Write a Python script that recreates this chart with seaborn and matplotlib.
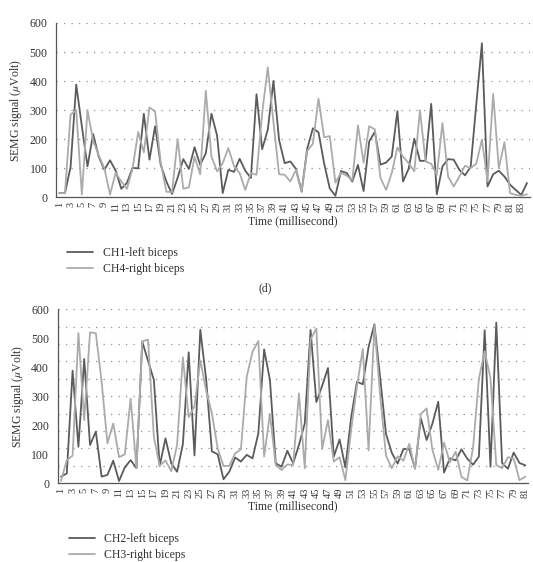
import numpy as np
import pandas as pd
import matplotlib
matplotlib.use("Agg")
import matplotlib.pyplot as plt
from matplotlib.ticker import MultipleLocator, FixedLocator
import seaborn as sns

# panel (d), upper chart
ch1_left = [15, 15, 105, 388, 245, 107, 218, 140, 95, 128, 92, 30, 50, 102, 100, 288, 130, 245, 112, 55,
            12, 68, 132, 98, 173, 112, 152, 288, 213, 15, 95, 88, 133, 92, 67, 355, 166, 233, 401, 198,
            118, 124, 98, 20, 168, 238, 224, 117, 31, 6, 91, 84, 55, 112, 22, 193, 226, 113, 120, 141,
            297, 55, 99, 202, 126, 126, 322, 11, 107, 132, 130, 95, 76, 105, 320, 530, 38, 80, 92, 72,
            44, 26, 9, 50]
ch4_right = [15, 15, 285, 300, 10, 300, 195, 145, 100, 10, 85, 55, 30, 100, 225, 155, 310, 295, 120, 20,
             18, 200, 30, 35, 140, 80, 367, 141, 90, 118, 170, 108, 84, 26, 84, 78, 290, 447, 260, 80,
             78, 55, 95, 20, 160, 185, 340, 207, 211, 51, 85, 75, 60, 248, 120, 245, 234, 67, 26, 84,
             172, 141, 118, 90, 300, 124, 116, 78, 256, 72, 38, 72, 109, 101, 116, 199, 55, 356, 101, 190,
             15, 9, 6, 11]

# lower chart
ch2_left = [23, 34, 388, 126, 428, 132, 178, 23, 29, 78, 8, 55, 80, 52, 488, 422, 356, 60, 155, 69,
            40, 135, 451, 96, 529, 360, 110, 100, 14, 40, 89, 75, 98, 86, 172, 461, 356, 69, 57, 112,
            69, 132, 206, 528, 280, 336, 397, 92, 151, 55, 228, 350, 341, 470, 548, 362, 170, 105, 68, 118,
            118, 52, 224, 149, 206, 281, 37, 86, 79, 117, 85, 64, 92, 527, 57, 553, 70, 50, 106, 70, 62]
ch3_right = [8, 80, 95, 517, 218, 520, 517, 350, 138, 206, 90, 100, 292, 52, 489, 495, 160, 60, 79, 42,
             132, 434, 228, 265, 424, 320, 241, 120, 60, 60, 103, 117, 367, 453, 490, 92, 239, 63, 46, 65,
             63, 310, 52, 496, 533, 118, 218, 75, 90, 11, 185, 335, 463, 113, 545, 300, 95, 52, 93, 78,
             136, 49, 239, 258, 115, 46, 140, 72, 109, 22, 10, 123, 360, 455, 362, 63, 52, 90, 85, 11, 23]

DARK = "#5b5b5b"
LIGHT = "#ababab"
TXT = "#333333"

sns.set_style("white")
plt.rcParams["font.family"] = ["Liberation Serif", "DejaVu Serif"]
plt.rcParams["mathtext.fontset"] = "stix"

fig = plt.figure(figsize=(5.33, 5.62), dpi=100)


def draw_panel(rect, left, right, names, grid_step):
    n = len(left)
    df = pd.DataFrame({"t": np.arange(1, n + 1), names[0]: left, names[1]: right})
    ax = fig.add_axes(rect)
    sns.lineplot(data=df, x="t", y=names[0], ax=ax, color=DARK, lw=1.3, label=names[0])
    sns.lineplot(data=df, x="t", y=names[1], ax=ax, color=LIGHT, lw=1.3, label=names[1])
    ax.set_xlim(0.5, n + 0.5)
    ax.set_ylim(0, 600)
    ax.yaxis.set_major_locator(MultipleLocator(100))
    # gridlines follow their own spacing (60 on the lower chart)
    ax.yaxis.set_minor_locator(MultipleLocator(grid_step))
    ax.yaxis.remove_overlapping_locs = False
    ax.yaxis.grid(True, which="minor", linestyle=(0, (1, 5)), color="#8f8f8f", lw=0.9)
    ax.set_axisbelow(True)
    ax.tick_params(axis="y", which="minor", length=0)
    ax.xaxis.set_major_locator(FixedLocator(np.arange(1, n + 1, 2)))
    ax.xaxis.set_minor_locator(FixedLocator(np.arange(0.5, n + 1, 1)))
    ax.tick_params(axis="x", which="major", length=0, labelrotation=90, labelsize=7.5, colors=TXT, pad=3)
    ax.tick_params(axis="x", which="minor", length=3, width=0.8, color="#555555", direction="out")
    ax.tick_params(axis="y", which="major", length=3, width=0.8, color="#555555", labelsize=8.5, colors=TXT)
    for s in ["top", "right"]:
        ax.spines[s].set_visible(False)
    for s in ["left", "bottom"]:
        ax.spines[s].set_color("#555555")
        ax.spines[s].set_linewidth(0.9)
    ax.set_xlabel("Time (millisecond)", fontsize=8.5, color=TXT, labelpad=2)
    ax.set_ylabel(r"SEMG signal ($\mu$Volt)", fontsize=8.5, color=TXT, labelpad=4)
    ax.legend(loc="upper left", bbox_to_anchor=(0.0, -0.225), frameon=False, fontsize=8.5,
              handlelength=2.2, handletextpad=0.8, labelspacing=0.3, labelcolor=TXT)
    return ax


draw_panel([0.106, 0.6486, 0.888, 0.3105], ch1_left, ch4_right,
           ["CH1-left biceps", "CH4-right biceps"], 100)
fig.text(0.497, 0.487, "(d)", ha="center", va="center", fontsize=8.5, color=TXT)
draw_panel([0.109, 0.140, 0.882, 0.310], ch2_left, ch3_right,
           ["CH2-left biceps", "CH3-right biceps"], 60)

fig.savefig("out.png", dpi=100)
